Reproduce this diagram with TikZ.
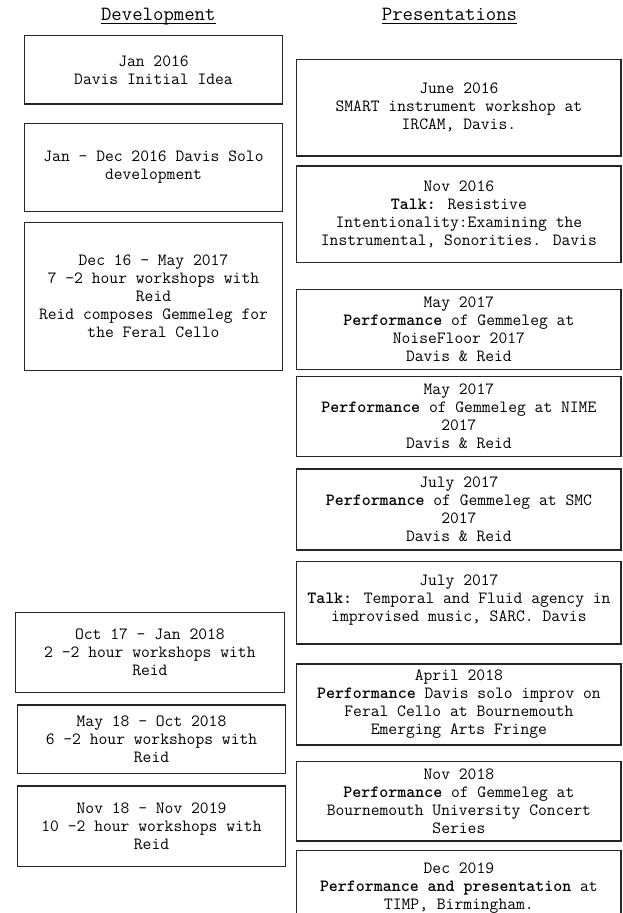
\documentclass[tikz,border=0pt]{standalone}
\usepackage{fontspec}

\begin{document}
\begin{tikzpicture}[x=1pt,y=-1pt,
    heading/.style={inner sep=0pt, anchor=base, font=\ttfamily\fontsize{20.2}{22}\selectfont},
    event/.style={draw=black!85, line width=1.2pt, align=center, inner sep=0pt,
      font=\ttfamily\fontsize{17.1}{18}\selectfont},
    devbox/.style={event, minimum width=268.4pt},
    presbox/.style={event, minimum width=324.3pt}]
            \useasboundingbox (0,0) rectangle (622,913);
            \clip (0,0) rectangle (622,913);

            % column headings
            \node[heading] (hdev) at (158.3,20.7) {Development};
            \node[heading] (hpres) at (449.5,20.7) {Presentations};
            \draw[line width=0.9pt] ([yshift=-2.6pt]hdev.base west) -- ([yshift=-2.6pt]hdev.base east);
            \draw[line width=0.9pt] ([yshift=-2.6pt]hpres.base west) -- ([yshift=-2.6pt]hpres.base east);

            % development
            \node[event, minimum width=258.4pt, minimum height=68.3pt] (idea) at (153.5,69.9)
                {Jan 2016\\Davis Initial Idea};
            \node[event, minimum width=258.4pt, minimum height=88.4pt] (solo) at (153.5,167.5)
                {Jan - Dec 2016 Davis Solo\\development};
            \node[event, minimum width=258.4pt, minimum height=148pt] (wsa) at (153.5,296.7)
                {Dec 16 - May 2017\\7 -2 hour workshops with\\Reid\\Reid composes Gemmeleg for\\the Feral Cello};
            \node[devbox, minimum height=80pt] (wsb) at (149.9,652.3)
                {Oct 17 - Jan 2018\\2 -2 hour workshops with\\Reid};
            \node[devbox, minimum height=68.3pt] (wsc) at (151.5,739.2)
                {May 18 - Oct 2018\\6 -2 hour workshops with\\Reid};
            \node[devbox, minimum height=80.7pt] (wsd) at (151.5,826.4)
                {Nov 18 - Nov 2019\\10 -2 hour workshops with\\Reid};

            % presentations
            \node[presbox, minimum height=96.7pt] (ircam) at (458.9,107.7)
                {June 2016\\SMART instrument workshop at\\IRCAM, Davis.};
            \node[presbox, minimum height=96.7pt] (talka) at (458.9,214.4)
                {Nov 2016\\\textbf{Talk:} Resistive\\Intentionality:Examining the\\Instrumental, Sonorities. Davis};
            \node[presbox, minimum height=80pt] (noise) at (458.9,329.3)
                {May 2017\\\textbf{Performance} of Gemmeleg at\\NoiseFloor 2017\\Davis \& Reid};
            \node[presbox, minimum height=80pt] (nime) at (458.9,416.7)
                {May 2017\\\textbf{Performance} of Gemmeleg at NIME\\2017\\Davis \& Reid};
            \node[presbox, minimum height=81pt] (smc) at (458.9,509.5)
                {July 2017\\\textbf{Performance} of Gemmeleg at SMC\\2017\\Davis \& Reid};
            \node[presbox, minimum height=82.3pt] (sarc) at (458.9,602.9)
                {July 2017\\\textbf{Talk:} Temporal and Fluid agency in\\improvised music, SARC. Davis\\[-8pt]};
            \node[presbox, minimum height=81pt] (fringe) at (458.9,704.5)
                {April 2018\\\textbf{Performance} Davis solo improv on\\Feral Cello at Bournemouth\\Emerging Arts Fringe};
            \node[presbox, minimum height=79.3pt] (concert) at (458.9,801.4)
                {Nov 2018\\\textbf{Performance} of Gemmeleg at\\Bournemouth University Concert\\Series};
            \node[presbox, minimum height=74.6pt] (timp) at (458.9,888)
                {Dec 2019\\\textbf{Performance and presentation} at\\TIMP, Birmingham.};
        \end{tikzpicture}
\end{document}
